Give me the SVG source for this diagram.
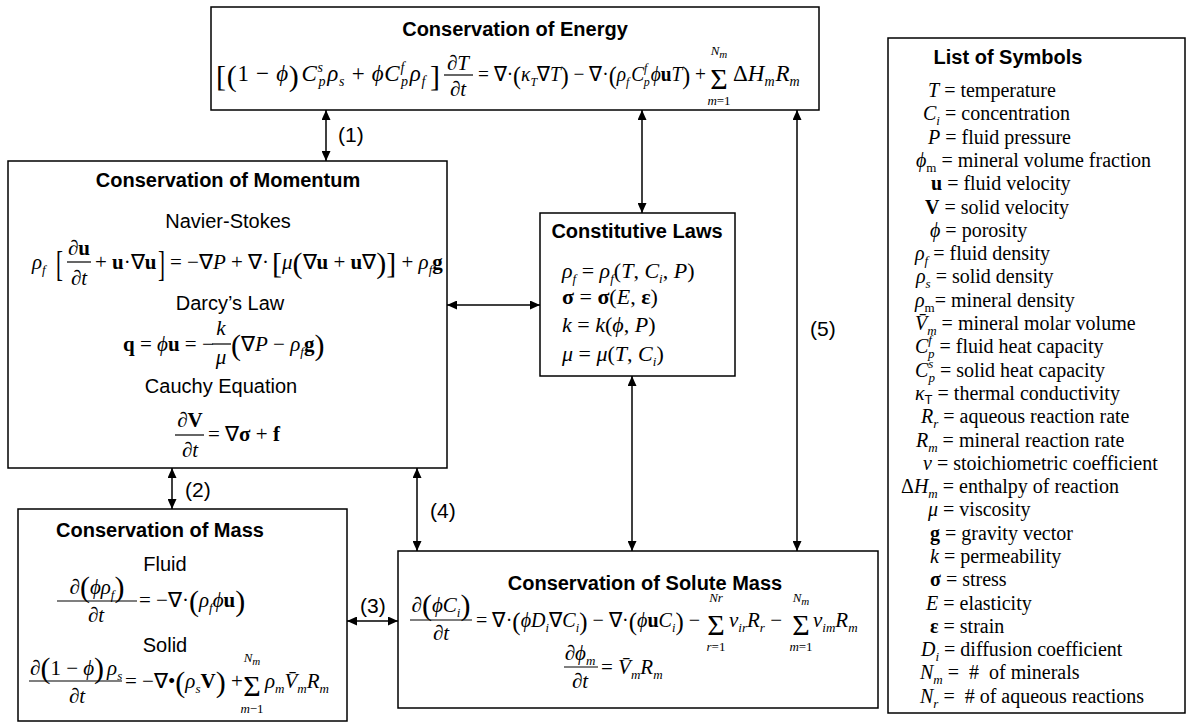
<svg xmlns="http://www.w3.org/2000/svg" width="1194" height="723" viewBox="0 0 1194 723">
<style>
.box{fill:#fff;stroke:#000;stroke-width:1.5}
.title{font-family:"Liberation Sans",Arial,sans-serif;font-weight:bold;font-size:20px;text-anchor:middle}
.sans{font-family:"Liberation Sans",Arial,sans-serif;font-size:20px;text-anchor:middle}
.lbl{font-family:"Liberation Sans",Arial,sans-serif;font-size:21px}
.m{font-family:"Liberation Serif","Times New Roman",serif;font-size:21px}
.lg{font-size:23px}
.cl{font-size:22px}
.sym{font-family:"Liberation Serif","Times New Roman",serif;font-size:20px}
.c{text-anchor:middle}
.i{font-style:italic}
.b{font-weight:bold}
.s{font-size:13px}
.s2{font-size:14px}
.ss{font-size:11px}
.big{font-size:30px}
.mid{font-size:26px}
.sig{font-size:30px;text-anchor:middle}
.bar{stroke:#000;stroke-width:1.2}
#connectors line{stroke:#000;stroke-width:1.5;marker-start:url(#ah);marker-end:url(#ah)}
</style>
<defs>
<marker id="ah" markerUnits="userSpaceOnUse" markerWidth="10" markerHeight="9" refX="10" refY="4.5" orient="auto-start-reverse" viewBox="0 0 10 9">
<path d="M0,0 L10,4.5 L0,9 z" fill="#000"/>
</marker>
</defs>
<rect width="1194" height="723" fill="#fff"/>

<g id="connectors">
<line x1="326" y1="110" x2="326" y2="161"/>
<line x1="642" y1="110" x2="642" y2="213"/>
<line x1="447" y1="305" x2="540" y2="305"/>
<line x1="797" y1="110" x2="797" y2="551"/>
<line x1="632" y1="376" x2="632" y2="551"/>
<line x1="172" y1="468" x2="172" y2="509"/>
<line x1="417" y1="468" x2="417" y2="551"/>
<line x1="347" y1="621" x2="398" y2="621"/>
<text class="lbl" x="338" y="142">(1)</text>
<text class="lbl" x="185" y="497">(2)</text>
<text class="lbl" x="360" y="613">(3)</text>
<text class="lbl" x="430" y="518">(4)</text>
<text class="lbl" x="810" y="336">(5)</text>
</g>

<g id="energy">
<rect class="box" x="211" y="7" width="608" height="103"/>
<text class="title" x="515" y="36">Conservation of Energy</text>
<text class="m lg" x="216" y="81" textLength="224" lengthAdjust="spacing"><tspan class="big" dy="5">[</tspan><tspan class="big">(</tspan><tspan dy="-5">1 − </tspan><tspan class="i">ϕ</tspan><tspan class="big" dy="5">)</tspan><tspan class="i" dy="-5" dx="2">C</tspan><tspan class="s2 i" dy="-9">s</tspan><tspan class="s2 i" dx="-5" dy="14">p</tspan><tspan class="i" dy="-5" dx="1">ρ</tspan><tspan class="s2 i" dy="5">s</tspan><tspan dy="-5"> + </tspan><tspan class="i">ϕC</tspan><tspan class="s2 i" dy="-9">f</tspan><tspan class="s2 i" dx="-4" dy="14">p</tspan><tspan class="i" dy="-5" dx="1">ρ</tspan><tspan class="s2 i" dy="5">f</tspan><tspan class="big" dx="4">]</tspan></text>
<text class="m c" x="458" y="70">∂<tspan class="i">T</tspan></text>
<line class="bar" x1="444" y1="75" x2="473" y2="75"/>
<text class="m c" x="458" y="96">∂<tspan class="i">t</tspan></text>
<text class="m" x="478" y="81" textLength="228" lengthAdjust="spacingAndGlyphs">= ∇·<tspan class="mid" dy="3">(</tspan><tspan class="i" dy="-3">κ</tspan><tspan class="s i" dy="5">T</tspan><tspan dy="-5">∇</tspan><tspan class="i">T</tspan><tspan class="mid" dy="3">)</tspan><tspan dy="-3"> − ∇·</tspan><tspan class="mid" dy="3">(</tspan><tspan class="i" dy="-3">ρ</tspan><tspan class="s i" dy="5">f</tspan><tspan class="i" dy="-5" dx="2">C</tspan><tspan class="s i" dy="-9">f</tspan><tspan class="s i" dx="-4" dy="14">p</tspan><tspan class="i" dy="-5" dx="1">ϕ</tspan><tspan class="b">u</tspan><tspan class="i">T</tspan><tspan class="mid" dy="3">)</tspan><tspan dy="-3"> +</tspan></text>
<text class="m sig" x="719" y="89">Σ</text>
<text class="m c" x="719" y="55"><tspan class="s i">N</tspan><tspan class="ss i" dy="3">m</tspan></text>
<text class="m c s" x="719" y="105"><tspan class="i">m</tspan>=1</text>
<text class="m lg" x="733" y="81">Δ<tspan class="i">H</tspan><tspan class="s2 i" dy="5">m</tspan><tspan class="i" dy="-5" dx="1">R</tspan><tspan class="s2 i" dy="5">m</tspan></text>
</g>

<g id="momentum">
<rect class="box" x="8" y="161" width="439" height="307"/>
<text class="title" x="228" y="187">Conservation of Momentum</text>
<text class="sans" x="228" y="228">Navier-Stokes</text>
<text class="m" x="32" y="269"><tspan class="i">ρ</tspan><tspan class="s i" dy="5">f</tspan></text>
<text class="m" font-size="30" transform="translate(56,276) scale(1,1.7)">[</text>
<text class="m c" x="79" y="255">∂<tspan class="b">u</tspan></text>
<line class="bar" x1="67" y1="262" x2="91" y2="262"/>
<text class="m c" x="79" y="285">∂<tspan class="i">t</tspan></text>
<text class="m" x="95" y="269">+ <tspan class="b">u</tspan>·∇<tspan class="b">u</tspan></text>
<text class="m" font-size="30" transform="translate(158,276) scale(1,1.7)">]</text>
<text class="m" x="170" y="269">= −∇<tspan class="i">P</tspan> + ∇·</text>
<text class="m" x="272" y="269"><tspan class="big" dy="4">[</tspan><tspan class="i" dy="-4">μ</tspan><tspan class="big" dy="4">(</tspan><tspan dy="-4">∇</tspan><tspan class="b">u</tspan> + <tspan class="b">u</tspan>∇<tspan class="big" dy="4">)</tspan><tspan class="big">]</tspan><tspan dy="-4"> + </tspan><tspan class="i">ρ</tspan><tspan class="s i" dy="5">f</tspan><tspan class="b" dy="-5">g</tspan></text>
<text class="sans" x="230" y="310">Darcy’s Law</text>
<text class="m" x="123" y="351"><tspan class="b">q</tspan> = <tspan class="i">ϕ</tspan><tspan class="b">u</tspan> = −</text>
<text class="m c i" x="221" y="335">k</text>
<line class="bar" x1="212" y1="344" x2="231" y2="344"/>
<text class="m c i" x="221" y="364">μ</text>
<text class="m" x="231" y="351"><tspan class="big" dy="4">(</tspan><tspan dy="-4">∇</tspan><tspan class="i">P</tspan> − <tspan class="i">ρ</tspan><tspan class="s i" dy="5">f</tspan><tspan class="b" dy="-5">g</tspan><tspan class="big" dy="4">)</tspan></text>
<text class="sans" x="221" y="393">Cauchy Equation</text>
<text class="m c" x="190" y="427">∂<tspan class="b">V</tspan></text>
<line class="bar" x1="175" y1="435" x2="204" y2="435"/>
<text class="m c" x="190" y="457">∂<tspan class="i">t</tspan></text>
<text class="m" x="208" y="441">= ∇<tspan class="b">σ</tspan> + <tspan class="b">f</tspan></text>
</g>

<g id="constitutive">
<rect class="box" x="540" y="213" width="195" height="163"/>
<text class="title" x="637" y="238">Constitutive Laws</text>
<text class="m cl" x="562" y="278"><tspan class="i">ρ</tspan><tspan class="s i" dy="5">f</tspan><tspan dy="-5"> = </tspan><tspan class="i">ρ</tspan><tspan class="s i" dy="5">f</tspan><tspan dy="-5">(</tspan><tspan class="i">T</tspan>, <tspan class="i">C</tspan><tspan class="s i" dy="5">i</tspan><tspan dy="-5">, </tspan><tspan class="i">P</tspan>)</text>
<text class="m cl" x="562" y="304"><tspan class="b">σ</tspan> = <tspan class="b">σ</tspan>(<tspan class="i">E</tspan>, <tspan class="b">ε</tspan>)</text>
<text class="m cl" x="562" y="332"><tspan class="i">k</tspan> = <tspan class="i">k</tspan>(<tspan class="i">ϕ</tspan>, <tspan class="i">P</tspan>)</text>
<text class="m cl" x="562" y="361"><tspan class="i">μ</tspan> = <tspan class="i">μ</tspan>(<tspan class="i">T</tspan>, <tspan class="i">C</tspan><tspan class="s i" dy="5">i</tspan><tspan dy="-5">)</tspan></text>
</g>

<g id="mass">
<rect class="box" x="18" y="509" width="329" height="212"/>
<text class="title" x="160" y="537">Conservation of Mass</text>
<text class="sans" x="165" y="571">Fluid</text>
<text class="m c" x="97" y="594">∂<tspan class="big" dy="3">(</tspan><tspan class="i" dy="-3">ϕρ</tspan><tspan class="s i" dy="5">f</tspan><tspan class="big" dy="-2">)</tspan></text>
<line class="bar" x1="57" y1="601" x2="137" y2="601"/>
<text class="m c" x="96" y="622">∂<tspan class="i">t</tspan></text>
<text class="m" x="139" y="607">= −∇·<tspan class="big" dy="4">(</tspan><tspan class="i" dy="-4">ρ</tspan><tspan class="s i" dy="5">f</tspan><tspan class="i" dy="-5">ϕ</tspan><tspan class="b">u</tspan><tspan class="big" dy="4">)</tspan></text>
<text class="sans" x="165" y="652">Solid</text>
<text class="m" x="30" y="675">∂<tspan class="big" dy="3">(</tspan><tspan dy="-3">1 − </tspan><tspan class="i">ϕ</tspan><tspan class="big" dy="3">)</tspan><tspan class="i" dy="-3" dx="3">ρ</tspan><tspan class="s i" dy="5">s</tspan></text>
<line class="bar" x1="29" y1="681" x2="122" y2="681"/>
<text class="m c" x="77" y="703">∂<tspan class="i">t</tspan></text>
<text class="m" x="125" y="688">= −∇•<tspan class="big" dy="4">(</tspan><tspan class="i" dy="-4">ρ</tspan><tspan class="s i" dy="5">s</tspan><tspan class="b" dy="-5">V</tspan><tspan class="big" dy="4">)</tspan><tspan dy="-4"> +</tspan></text>
<text class="m sig" x="252" y="696">Σ</text>
<text class="m c" x="252" y="662"><tspan class="s i">N</tspan><tspan class="ss i" dy="3">m</tspan></text>
<text class="m c s" x="252" y="713"><tspan class="i">m</tspan>−1</text>
<text class="m" x="265" y="688"><tspan class="i">ρ</tspan><tspan class="s i" dy="5">m</tspan><tspan class="i" dy="-5">V̄</tspan><tspan class="s i" dy="5">m</tspan><tspan class="i" dy="-5">R</tspan><tspan class="s i" dy="5">m</tspan></text>
</g>

<g id="solute">
<rect class="box" x="398" y="551" width="480" height="157"/>
<text class="title" x="645" y="590">Conservation of Solute Mass</text>
<text class="m c" x="441" y="612">∂<tspan class="big" dy="3">(</tspan><tspan class="i" dy="-3">ϕC</tspan><tspan class="s i" dy="5">i</tspan><tspan class="big" dy="-2">)</tspan></text>
<line class="bar" x1="410" y1="620" x2="472" y2="620"/>
<text class="m c" x="441" y="640">∂<tspan class="i">t</tspan></text>
<text class="m" x="476" y="627" textLength="224" lengthAdjust="spacingAndGlyphs">= ∇·<tspan class="mid" dy="3">(</tspan><tspan class="i" dy="-3">ϕD</tspan><tspan class="s i" dy="5">i</tspan><tspan dy="-5">∇</tspan><tspan class="i">C</tspan><tspan class="s i" dy="5">i</tspan><tspan class="mid" dy="-2">)</tspan><tspan dy="-3"> − ∇·</tspan><tspan class="mid" dy="3">(</tspan><tspan class="i" dy="-3">ϕ</tspan><tspan class="b">u</tspan><tspan class="i">C</tspan><tspan class="s i" dy="5">i</tspan><tspan class="mid" dy="-2">)</tspan><tspan dy="-3"> −</tspan></text>
<text class="m sig" x="716" y="635">Σ</text>
<text class="m c s i" x="716" y="602">Nr</text>
<text class="m c s" x="716" y="651"><tspan class="i">r</tspan>=1</text>
<text class="m" x="729" y="627"><tspan class="i">ν</tspan><tspan class="s i" dy="5">ir</tspan><tspan class="i" dy="-5">R</tspan><tspan class="s i" dy="5">r</tspan><tspan dy="-5"> −</tspan></text>
<text class="m sig" x="801" y="635">Σ</text>
<text class="m c" x="801" y="602"><tspan class="s i">N</tspan><tspan class="ss i" dy="3">m</tspan></text>
<text class="m c s" x="801" y="651"><tspan class="i">m</tspan>=1</text>
<text class="m" x="813" y="627"><tspan class="i">ν</tspan><tspan class="s i" dy="5">im</tspan><tspan class="i" dy="-5">R</tspan><tspan class="s i" dy="5">m</tspan></text>
<text class="m c" x="580" y="660">∂<tspan class="i">ϕ</tspan><tspan class="s i" dy="5">m</tspan></text>
<line class="bar" x1="564" y1="667" x2="598" y2="667"/>
<text class="m c" x="580" y="688">∂<tspan class="i">t</tspan></text>
<text class="m" x="601" y="674">= <tspan class="i">V̄</tspan><tspan class="s i" dy="5">m</tspan><tspan class="i" dy="-5">R</tspan><tspan class="s i" dy="5">m</tspan></text>
</g>

<g id="symbols">
<rect class="box" x="888" y="38" width="297" height="675"/>
<text class="title" x="1008" y="64">List of Symbols</text>
<text class="sym" x="928" y="97"><tspan class="i">T</tspan> = temperature</text>
<text class="sym" x="923" y="120"><tspan class="i">C</tspan><tspan class="s i" dy="5">i</tspan><tspan dy="-5"> = concentration</tspan></text>
<text class="sym" x="928" y="144"><tspan class="i">P</tspan> = fluid pressure</text>
<text class="sym" x="916" y="167"><tspan class="i">ϕ</tspan><tspan class="s" dy="5">m</tspan><tspan dy="-5"> = mineral volume fraction</tspan></text>
<text class="sym" x="931" y="190"><tspan class="b">u</tspan> = fluid velocity</text>
<text class="sym" x="925" y="214"><tspan class="b">V</tspan> = solid velocity</text>
<text class="sym" x="930" y="237"><tspan class="i">ϕ</tspan> = porosity</text>
<text class="sym" x="915" y="260"><tspan class="i">ρ</tspan><tspan class="s i" dy="5">f</tspan><tspan dy="-5"> = fluid density</tspan></text>
<text class="sym" x="916" y="283"><tspan class="i">ρ</tspan><tspan class="s i" dy="5">s</tspan><tspan dy="-5"> = solid density</tspan></text>
<text class="sym" x="915" y="307"><tspan class="i">ρ</tspan><tspan class="s" dy="5">m</tspan><tspan dy="-5">= mineral density</tspan></text>
<text class="sym" x="915" y="330"><tspan class="i">V̄</tspan><tspan class="s i" dy="5">m</tspan><tspan dy="-5"> = mineral molar volume</tspan></text>
<text class="sym" x="915" y="353"><tspan class="i">C</tspan><tspan class="s i" dy="-9">f</tspan><tspan class="s i" dx="-4" dy="14">p</tspan><tspan dy="-5"> = fluid heat capacity</tspan></text>
<text class="sym" x="915" y="377"><tspan class="i">C</tspan><tspan class="s i" dy="-9">s</tspan><tspan class="s i" dx="-5" dy="14">p</tspan><tspan dy="-5"> = solid heat capacity</tspan></text>
<text class="sym" x="915" y="400"><tspan class="i">κ</tspan><tspan class="s" dy="4" font-family="Liberation Sans,Arial,sans-serif">T</tspan><tspan dy="-4"> = thermal conductivity</tspan></text>
<text class="sym" x="921" y="423"><tspan class="i">R</tspan><tspan class="s i" dy="5">r</tspan><tspan dy="-5"> = aqueous reaction rate</tspan></text>
<text class="sym" x="916" y="447"><tspan class="i">R</tspan><tspan class="s i" dy="5">m</tspan><tspan dy="-5"> = mineral reaction rate</tspan></text>
<text class="sym" x="923" y="470"><tspan class="i">ν</tspan> = stoichiometric coefficient</text>
<text class="sym" x="901" y="493">Δ<tspan class="i">H</tspan><tspan class="s i" dy="5">m</tspan><tspan dy="-5"> = enthalpy of reaction</tspan></text>
<text class="sym" x="928" y="516"><tspan class="i">μ</tspan> = viscosity</text>
<text class="sym" x="930" y="540"><tspan class="b">g</tspan> = gravity vector</text>
<text class="sym" x="930" y="563"><tspan class="i">k</tspan> = permeability</text>
<text class="sym" x="930" y="586"><tspan class="b">σ</tspan> = stress</text>
<text class="sym" x="926" y="610"><tspan class="i">E</tspan> = elasticity</text>
<text class="sym" x="930" y="633"><tspan class="b">ε</tspan> = strain</text>
<text class="sym" x="921" y="656"><tspan class="i">D</tspan><tspan class="s i" dy="5">i</tspan><tspan dy="-5"> = diffusion coefficient</tspan></text>
<text class="sym" x="920" y="679"><tspan class="i">N</tspan><tspan class="s i" dy="5">m</tspan><tspan dy="-5"> =&#160; #&#160; of minerals</tspan></text>
<text class="sym" x="920" y="703"><tspan class="i">N</tspan><tspan class="s i" dy="5">r</tspan><tspan dy="-5"> =&#160; # of aqueous reactions</tspan></text>
</g>
</svg>
